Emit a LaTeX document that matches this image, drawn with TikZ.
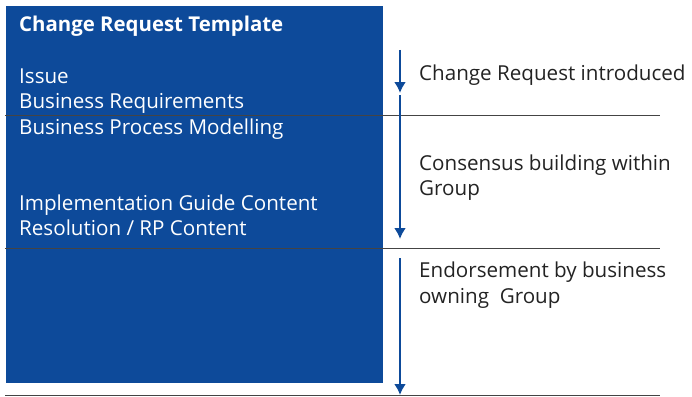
\documentclass[tikz,border=0pt]{standalone}
\usepackage{fontspec}
\setmainfont{Open Sans}
\usetikzlibrary{arrows.meta}
\definecolor{cblue}{RGB}{13,74,154}
\definecolor{cline}{RGB}{68,68,68}
\definecolor{ctext}{RGB}{35,35,35}
\begin{document}
\begin{tikzpicture}[x=1pt,y=-1pt,
  lefttxt/.style={anchor=base west,text=white,font=\fontsize{20.6}{25}\selectfont,inner sep=0pt},
  righttxt/.style={anchor=base west,text=ctext,font=\fontsize{20.6}{25.5}\selectfont,inner sep=0pt},
  sep/.style={draw=cline,line width=1pt},
  flow/.style={draw=cblue,line width=2.6pt,-{Latex[length=11pt,width=12pt]}}]
\useasboundingbox (0,0) rectangle (692,396);
\fill[cblue] (6,6) rectangle (383,383);
\node[lefttxt,font=\bfseries\fontsize{20.4}{24}\selectfont] (title) at (19,31.5) {Change Request Template};
\node[lefttxt] (issue) at (19,83) {Issue};
\node[lefttxt] (breq) at (19,108) {Business Requirements};
\node[lefttxt] (bpm) at (19,134) {Business Process Modelling};
\node[lefttxt] (igc) at (19,210) {Implementation Guide Content};
\node[lefttxt] (res) at (19,235) {Resolution / RP Content};
\coordinate (l1a) at (5,115); \coordinate (l1b) at (660,115);
\coordinate (l2a) at (5,248); \coordinate (l2b) at (660,248);
\coordinate (l3a) at (5,395); \coordinate (l3b) at (660,395);
\draw[sep] (l1a) -- (l1b);
\draw[sep] (l2a) -- (l2b);
\draw[sep] (l3a) -- (l3b);
\coordinate (a1s) at (400,50); \coordinate (a1e) at (400,93);
\coordinate (a2s) at (400,95); \coordinate (a2e) at (400,239);
\coordinate (a3s) at (400,258); \coordinate (a3e) at (400,395);
\draw[flow] (a1s) -- (a1e);
\draw[flow] (a2s) -- (a2e);
\draw[flow] (a3s) -- (a3e);
\node[righttxt] (t1) at (419,80) {Change Request introduced};
\node[righttxt] (t2a) at (419,170.5) {Consensus building within};
\node[righttxt] (t2b) at (419,195.5) {Group};
\node[righttxt] (t3a) at (419,277.5) {Endorsement by business};
\node[righttxt] (t3b) at (419,303) {owning~~Group};
\end{tikzpicture}
\end{document}
